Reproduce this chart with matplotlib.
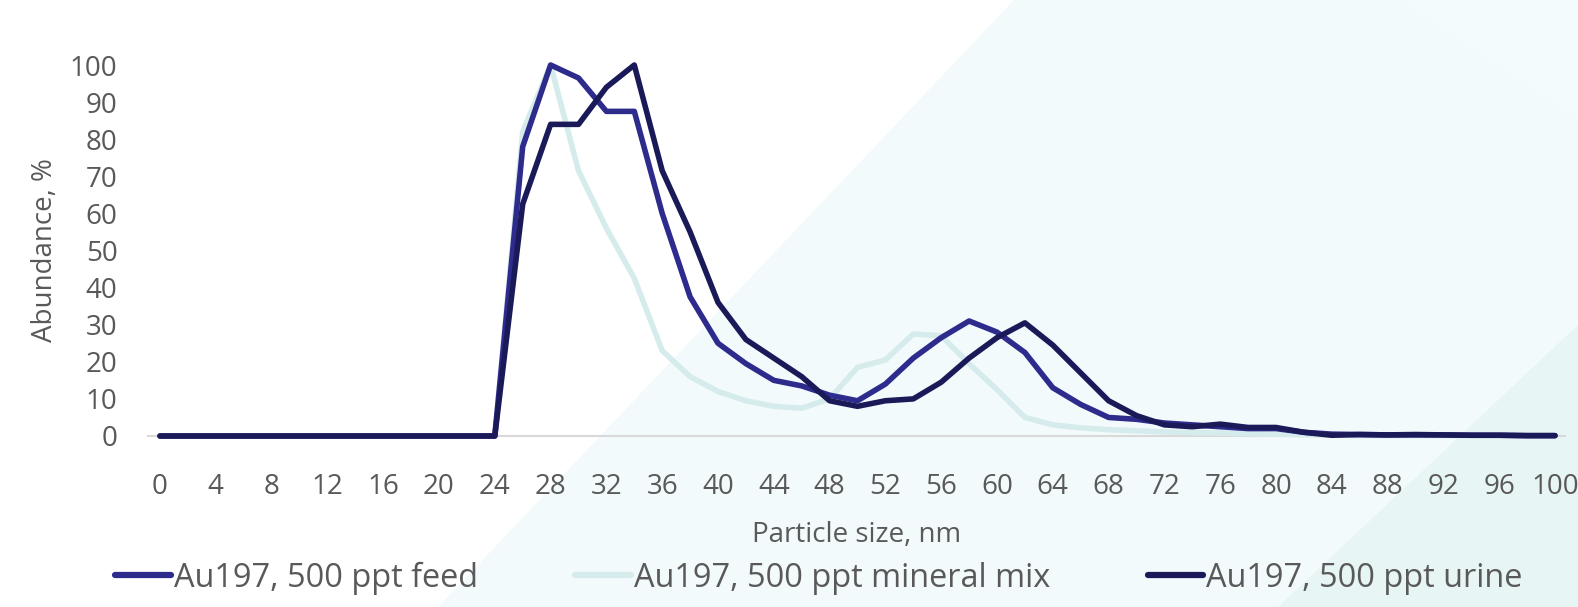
import matplotlib
matplotlib.use("Agg")
import matplotlib.pyplot as plt
from matplotlib.patches import Polygon

plt.rcParams['font.family'] = ['Open Sans', 'DejaVu Sans']

sizes = list(range(0, 101, 2))
xtick_labels = [str(v) for v in range(0, 101, 4)]
ytick_values = list(range(0, 101, 10))

feed = [0]*13 + [78, 100, 96.5, 87.5, 87.5, 60, 37.5, 25, 19.5, 15, 13.5, 11, 9.5,
                 14, 21, 26.5, 31, 28, 22.5, 13, 8.5, 5, 4.5, 3.5, 3, 2.5, 2, 2, 1,
                 0.5, 0.4, 0.3, 0.3, 0.3, 0.2, 0.2, 0.1, 0.1]
mineral = [0]*13 + [82, 100, 71.5, 56, 42.5, 23, 16, 12, 9.5, 8, 7.5, 10, 18.5,
                    20.5, 27.5, 27, 19.5, 12.5, 5, 3, 2.2, 1.7, 1.4, 1.1, 0.9, 0.8, 0.6, 0.5, 0.3,
                    0.2, 0.1, 0.1, 0.1, 0.1, 0.1, 0.1, 0.1, 0.1]
urine = [0]*13 + [62.5, 84, 84, 94, 100, 71.5, 55, 36, 26, 21, 16, 9.5, 8,
                  9.5, 10, 14.5, 21, 26.5, 30.5, 24.5, 17, 9.5, 5.5, 3, 2.5, 3.2, 2.3, 2.3, 1,
                  0.2, 0.4, 0.3, 0.4, 0.3, 0.2, 0.2, 0.1, 0.1]

series_names = ["Au197, 500 ppt feed", "Au197, 500 ppt mineral mix", "Au197, 500 ppt urine"]
colors = ["#2d2b8c", "#d6ecec", "#1b1a58"]

W, H = 1578, 607
fig = plt.figure(figsize=(W/100, H/100), dpi=100)
fig.patch.set_facecolor("white")

# background shapes in a full-figure axes (pixel coords, y downward)
bg = fig.add_axes([0, 0, 1, 1], zorder=-10)
bg.set_xlim(0, W)
bg.set_ylim(H, 0)
bg.axis('off')
bg.add_patch(Polygon([(438, 607), (1014, 0), (1578, 0), (1578, 607)],
                     closed=True, facecolor="#f2fafc", edgecolor="none"))
bg.add_patch(Polygon([(1400, 0), (1578, 0), (1578, 120)],
                     closed=True, facecolor="#f4fbfc", edgecolor="none"))
bg.add_patch(Polygon([(1278, 607), (1578, 325), (1578, 607)],
                     closed=True, facecolor="#e7f5f5", edgecolor="none"))

left, right = 148, 1565
top, bottom = 65, 436
ax = fig.add_axes([left/W, 1 - bottom/H, (right-left)/W, (bottom-top)/H], zorder=1)
ax.set_facecolor("none")

px_per = (1555 - 160) / 100.0
ax.set_xlim(-(160-left)/px_per, 100 + (right-1555)/px_per)
ax.set_ylim(0, 100)

lw = 4.0
l_min, = ax.plot(sizes, mineral, color=colors[1], lw=lw, solid_capstyle='round',
                 solid_joinstyle='round', zorder=3, clip_on=False, label=series_names[1])
l_feed, = ax.plot(sizes, feed, color=colors[0], lw=lw, solid_capstyle='round',
                  solid_joinstyle='round', zorder=4, clip_on=False, label=series_names[0])
l_ur, = ax.plot(sizes, urine, color=colors[2], lw=lw, solid_capstyle='round',
                solid_joinstyle='round', zorder=5, clip_on=False, label=series_names[2])

for s in ['top', 'right', 'left']:
    ax.spines[s].set_visible(False)
ax.spines['bottom'].set_color("#d9d9d9")
ax.spines['bottom'].set_linewidth(1.5)
ax.spines['bottom'].set_zorder(2)

text_color = "#595959"
ax.set_xticks(range(0, 101, 4))
ax.set_xticklabels(xtick_labels)
ax.set_yticks(ytick_values)
ax.set_yticklabels([str(v) for v in ytick_values])
ax.tick_params(axis='both', length=0, labelsize=20, colors=text_color)
ax.tick_params(axis='x', pad=27)
ax.tick_params(axis='y', pad=22)

ax.set_xlabel("Particle size, nm", fontsize=20, color=text_color, labelpad=14)
ax.set_ylabel("Abundance, %", fontsize=20, color=text_color, labelpad=8)

leg = fig.legend([l_feed, l_min, l_ur], series_names, loc='center', ncol=3,
                 bbox_to_anchor=(819/W, 1 - 578/H), frameon=False,
                 fontsize=23.4, handlelength=1.7, handletextpad=0.1,
                 columnspacing=3.0, labelcolor=text_color)
for h in leg.get_lines():
    h.set_linewidth(4.5)
    h.set_solid_capstyle('round')

fig.savefig("out.png", dpi=100, facecolor=fig.get_facecolor())
